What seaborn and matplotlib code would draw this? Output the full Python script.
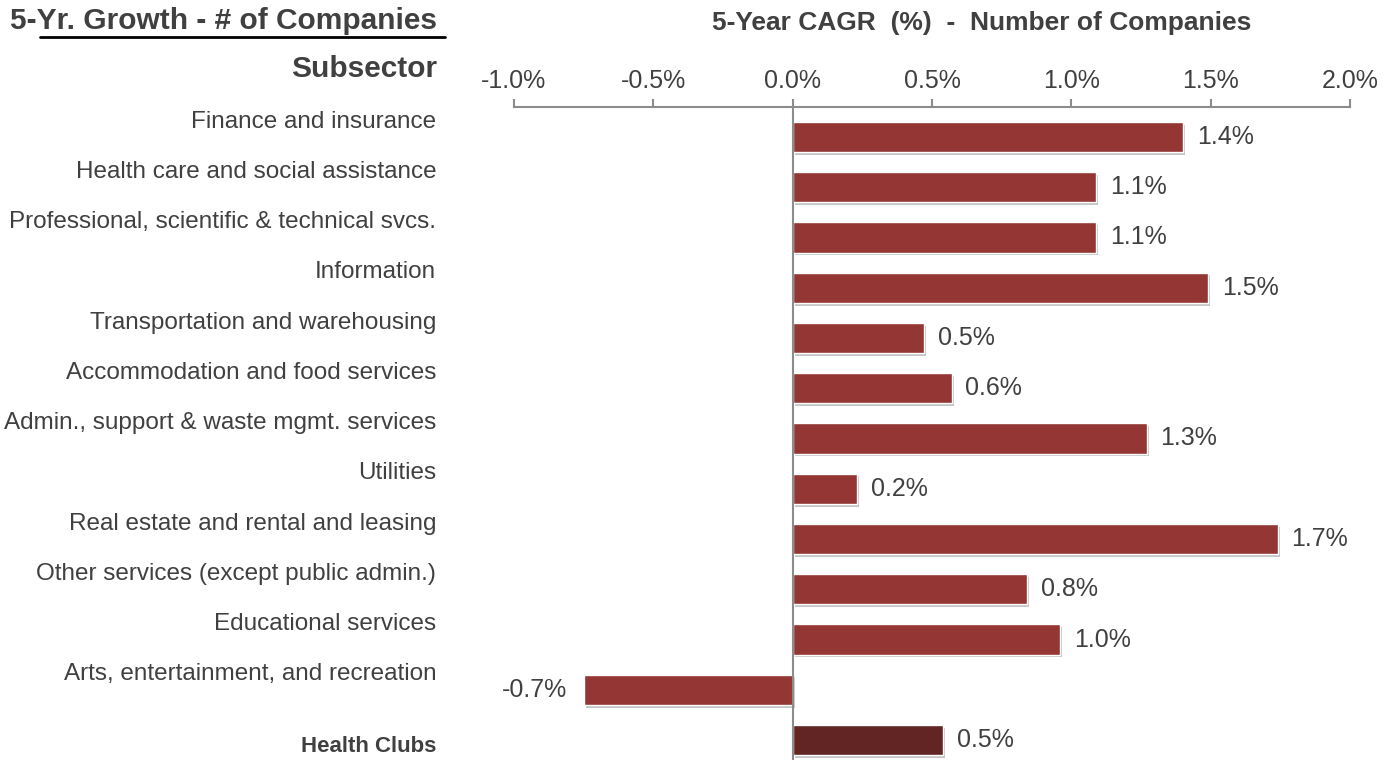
import matplotlib
matplotlib.use('Agg')
import matplotlib.pyplot as plt
import matplotlib.patheffects as pe
from matplotlib.lines import Line2D
import seaborn as sns
import pandas as pd

# ── data ───────────────────────────────────────────────────────────────────
SUBSECTORS = [
    'Finance and insurance',
    'Health care and social assistance',
    'Professional, scientific & technical svcs.',
    'Information',
    'Transportation and warehousing',
    'Accommodation and food services',
    'Admin., support & waste mgmt. services',
    'Utilities',
    'Real estate and rental and leasing',
    'Other services (except public admin.)',
    'Educational services',
    'Arts, entertainment, and recreation',
    'Health Clubs',
]
CAGR = [1.40, 1.09, 1.09, 1.49, 0.47, 0.57, 1.27, 0.23, 1.74, 0.84, 0.96, -0.75, 0.54]
VALUE_LABELS = ['1.4%', '1.1%', '1.1%', '1.5%', '0.5%', '0.6%', '1.3%',
                '0.2%', '1.7%', '0.8%', '1.0%', '-0.7%', '0.5%']
X_TICKS = [-1.0, -0.5, 0.0, 0.5, 1.0, 1.5, 2.0]

BAR_RED   = '#943634'
BAR_DARK  = '#632523'
TEXT_GREY = '#404040'
AXIS_GREY = '#8c8c8c'

sns.set_theme(style='white')
plt.rcParams['font.family'] = ['Liberation Sans', 'DejaVu Sans']

df = pd.DataFrame({'subsector': SUBSECTORS, 'cagr': CAGR})
colours = [BAR_DARK if s == 'Health Clubs' else BAR_RED for s in SUBSECTORS]

fig = plt.figure(figsize=(13.85, 7.6), dpi=100)
ax = fig.add_axes([514 / 1385, 0, 836 / 1385, 653 / 760])

sns.barplot(data=df, x='cagr', y='subsector', hue='subsector', palette=colours,
            legend=False, orient='h', width=0.6, saturation=1, ax=ax)

# subtle grey drop shadow like the original
for patch in ax.patches:
    patch.set_path_effects([
        pe.SimplePatchShadow(offset=(1.5, -2), shadow_rgbFace='grey', alpha=0.45),
        pe.Normal(),
    ])

ax.set_xlim(-1.0, 2.0)
ax.set_ylim(len(SUBSECTORS) - 1 + 0.398, -0.597)
ax.set_xlabel('')
ax.set_ylabel('')
ax.set_yticks([])

# axis on top, only top spine
for side in ['left', 'right', 'bottom']:
    ax.spines[side].set_visible(False)
ax.spines['top'].set_color(AXIS_GREY)
ax.spines['top'].set_linewidth(1.5)
ax.xaxis.tick_top()
ax.set_xticks(X_TICKS)
ax.set_xticklabels([f'{t:.1f}%' for t in X_TICKS])
ax.tick_params(axis='x', top=True, direction='out', length=6, width=1.5,
               color=AXIS_GREY, labelsize=18, labelcolor=TEXT_GREY, pad=4)
ax.axvline(0, color=AXIS_GREY, lw=1.5, zorder=5)

# value labels
for i, (v, lbl) in enumerate(zip(CAGR, VALUE_LABELS)):
    if v >= 0:
        ax.annotate(lbl, xy=(v, i), xytext=(10, 0), textcoords='offset points',
                    ha='left', va='center', fontsize=18, color=TEXT_GREY)
    else:
        ax.annotate(lbl, xy=(v, i), xytext=(-12, 0), textcoords='offset points',
                    ha='right', va='center', fontsize=18, color=TEXT_GREY)

# category labels on the left (sit slightly above each bar, Health Clubs below)
for i, name in enumerate(SUBSECTORS):
    if name == 'Health Clubs':
        ax.annotate(name, xy=(0, i), xycoords=('axes fraction', 'data'),
                    xytext=(-56, -5), textcoords='offset points',
                    ha='right', va='center', fontsize=16, fontweight='bold',
                    color=TEXT_GREY)
    else:
        ax.annotate(name, xy=(0, i), xycoords=('axes fraction', 'data'),
                    xytext=(-56, 11), textcoords='offset points',
                    ha='right', va='center', fontsize=17.5, color=TEXT_GREY)

# titles
fig.text(982 / 1385, 1 - 23 / 760, '5-Year CAGR  (%)  -  Number of Companies',
         ha='center', va='center', fontsize=19, fontweight='bold', color=TEXT_GREY)
fig.text(10 / 1385, 1 - 21 / 760, '5-Yr. Growth - # of Companies',
         ha='left', va='center', fontsize=21.5, fontweight='bold', color=TEXT_GREY)
fig.add_artist(Line2D([40 / 1385, 445 / 1385], [1 - 37 / 760, 1 - 37 / 760],
                      color='black', lw=2))
fig.text(437 / 1385, 1 - 69 / 760, 'Subsector',
         ha='right', va='center', fontsize=21.5, fontweight='bold', color=TEXT_GREY)

fig.savefig('out.png', dpi=100)
